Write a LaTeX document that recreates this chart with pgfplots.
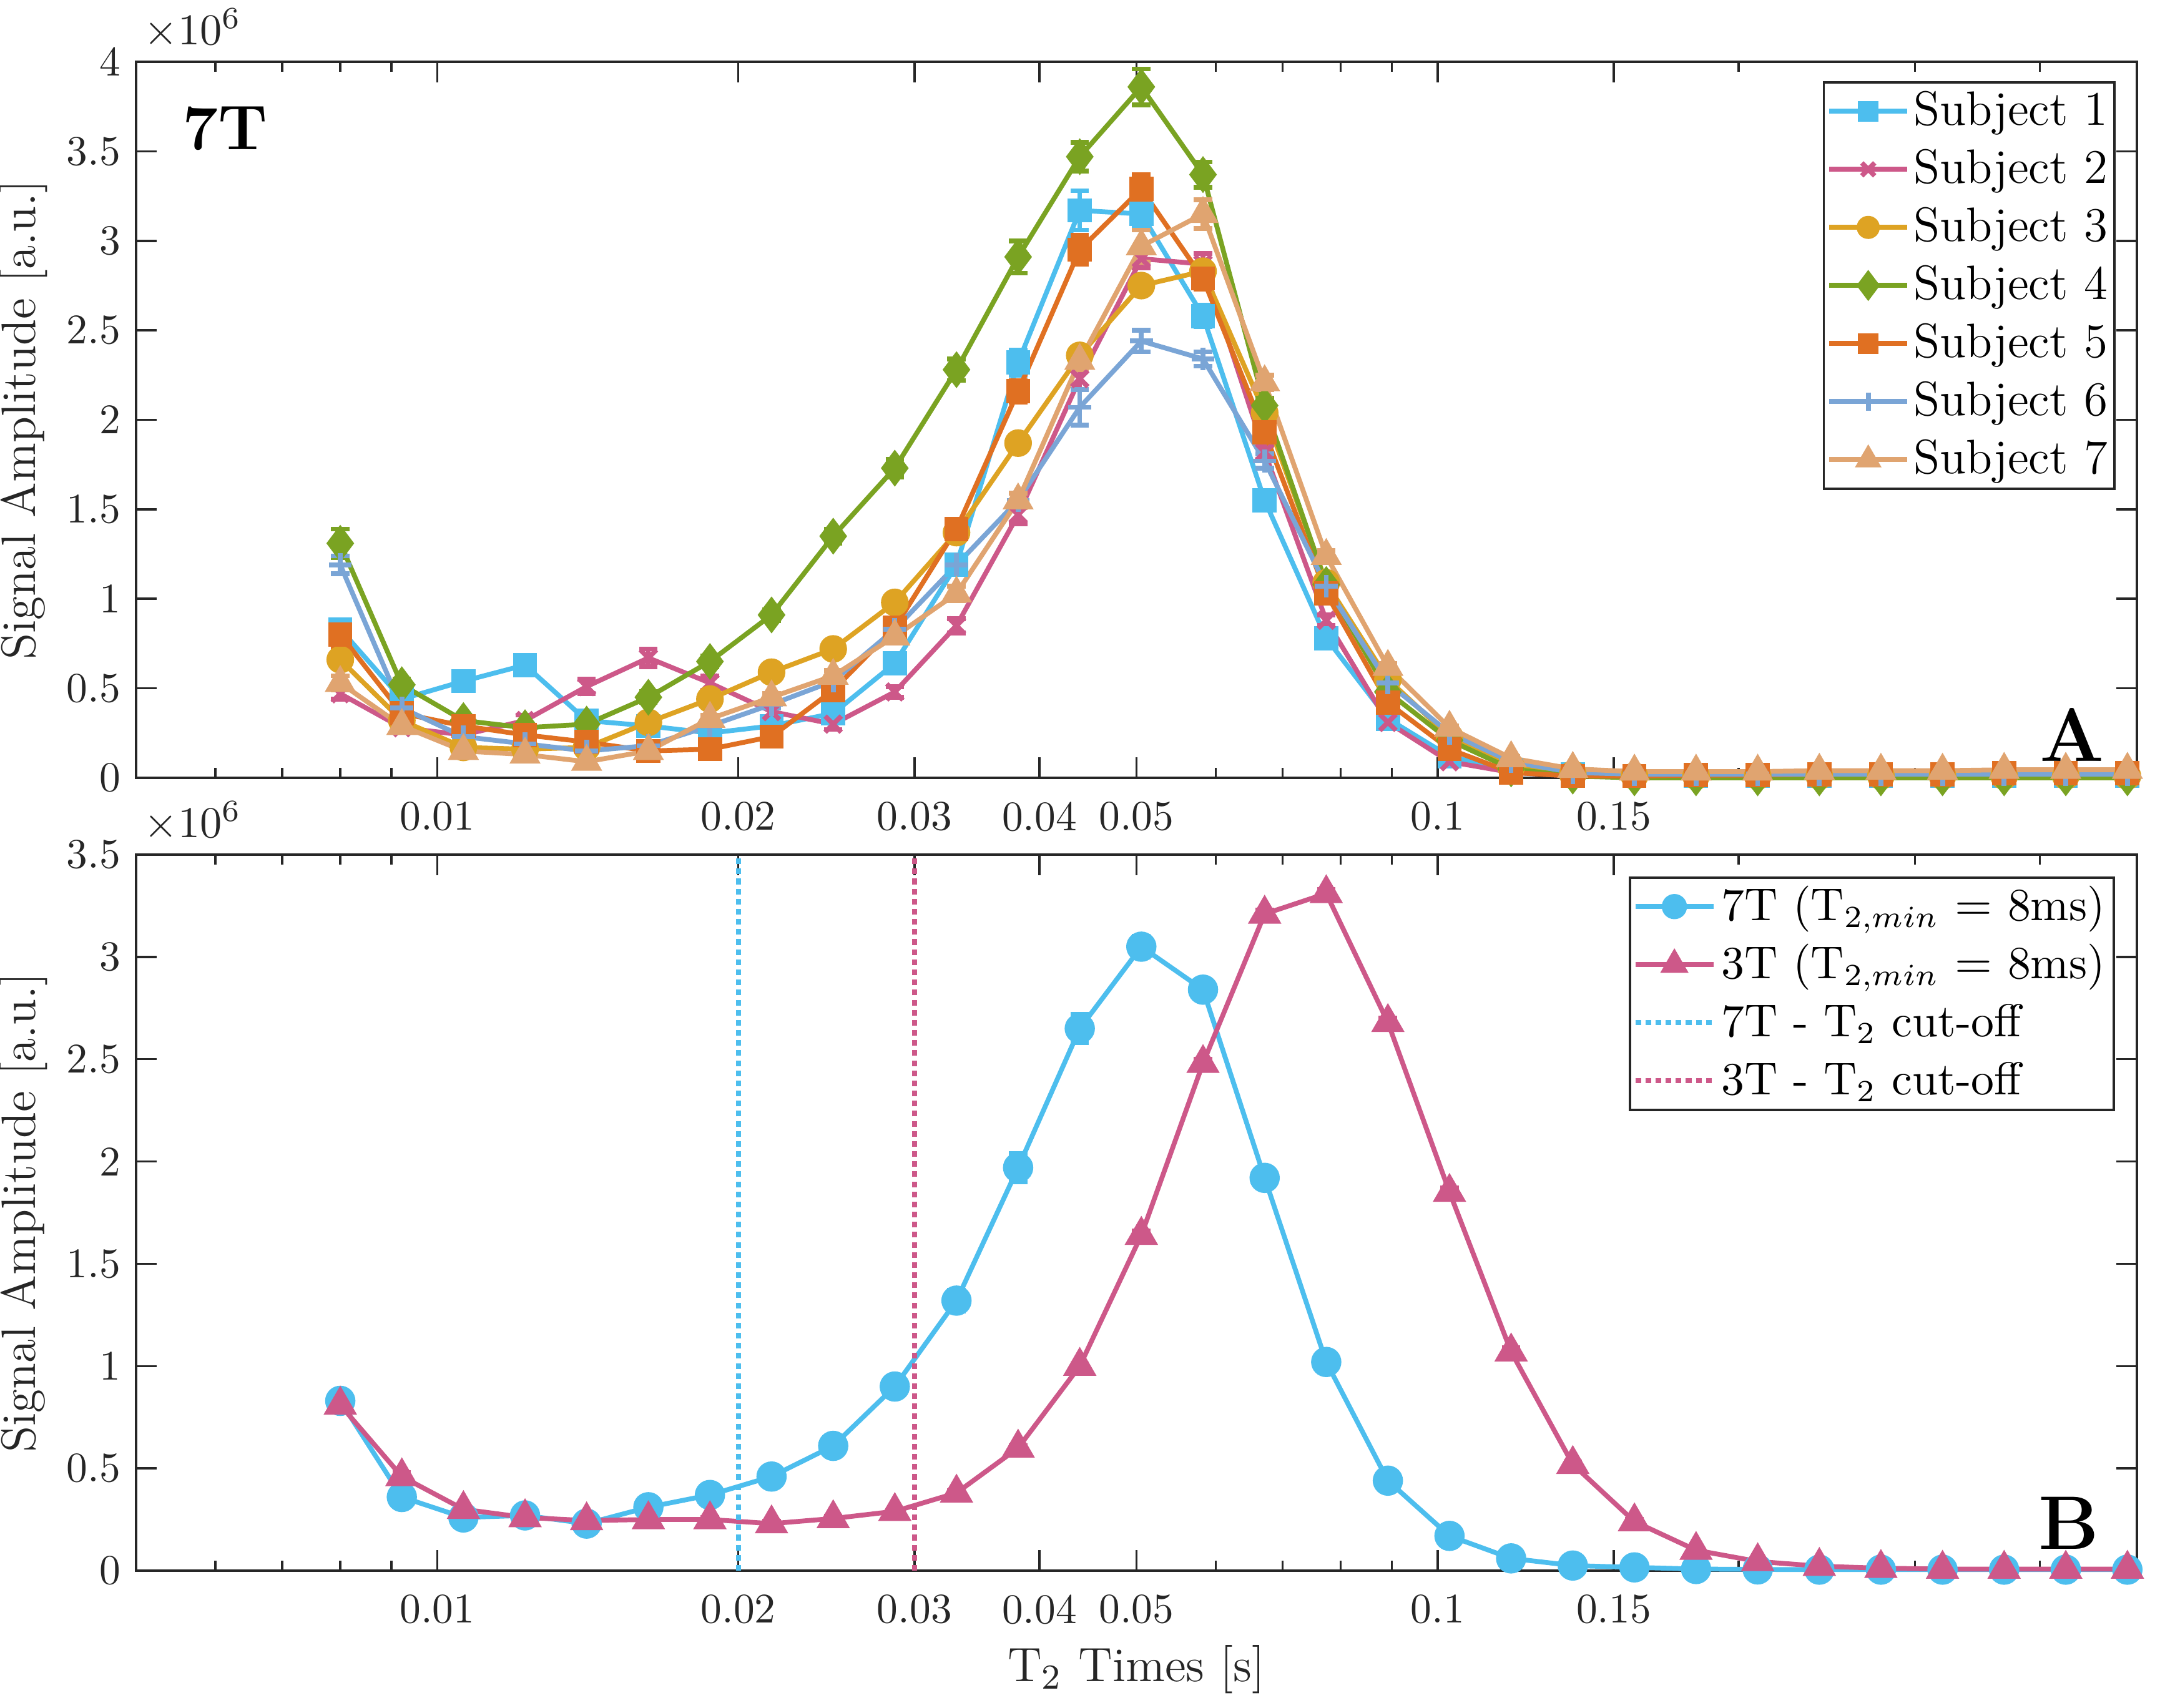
\documentclass[border=0pt]{standalone}
\usepackage{pgfplots}
\usepackage{pgfplotstable}
\pgfplotsset{compat=1.18}
\definecolor{c1}{RGB}{77,190,238}
\definecolor{c2}{RGB}{205,88,137}
\definecolor{c3}{RGB}{222,163,35}
\definecolor{c4}{RGB}{122,163,34}
\definecolor{c5}{RGB}{224,112,34}
\definecolor{c6}{RGB}{122,165,214}
\definecolor{c7}{RGB}{224,164,112}
\definecolor{axc}{RGB}{38,38,38}

\pgfplotstableread{
x        s1   e1    s2   e2    s3   e3    s4   e4    s5    e5    s6   e6    s7    e7
0.008000 0.83 0.04  0.47 0.03  0.66 0.03  1.31 0.08  0.80  0.07  1.19 0.05  0.53  0.04
0.009218 0.44 0.03  0.28 0.02  0.32 0.02  0.52 0.03  0.36  0.02  0.39 0.03  0.29  0.02
0.010622 0.54 0.03  0.24 0.02  0.17 0.02  0.32 0.02  0.29  0.02  0.23 0.02  0.15  0.02
0.012240 0.63 0.03  0.32 0.03  0.16 0.02  0.28 0.02  0.24  0.02  0.19 0.02  0.13  0.02
0.014104 0.32 0.02  0.51 0.04  0.17 0.02  0.30 0.02  0.20  0.02  0.15 0.02  0.09  0.02
0.016259 0.29 0.02  0.67 0.05  0.31 0.02  0.45 0.03  0.15  0.02  0.18 0.02  0.15  0.02
0.018734 0.25 0.02  0.53 0.04  0.44 0.02  0.65 0.03  0.16  0.02  0.29 0.02  0.33  0.02
0.021587 0.29 0.02  0.37 0.03  0.59 0.03  0.91 0.03  0.23  0.02  0.41 0.02  0.45  0.02
0.024878 0.36 0.02  0.30 0.03  0.72 0.03  1.35 0.04  0.49  0.03  0.54 0.03  0.57  0.03
0.028669 0.64 0.03  0.48 0.03  0.98 0.03  1.73 0.05  0.84  0.04  0.83 0.03  0.79  0.03
0.033044 1.19 0.05  0.85 0.04  1.37 0.04  2.28 0.06  1.39  0.04  1.19 0.04  1.03  0.04
0.038078 2.32 0.07  1.47 0.05  1.87 0.04  2.91 0.09  2.16  0.06  1.55 0.04  1.55  0.04
0.043882 3.17 0.11  2.23 0.06  2.36 0.04  3.47 0.08  2.95  0.08  2.07 0.10  2.33  0.05
0.050562 3.15 0.07  2.90 0.05  2.75 0.04  3.86 0.10  3.29  0.08  2.44 0.06  2.97  0.09
0.058275 2.58 0.06  2.87 0.06  2.83 0.04  3.37 0.07  2.79  0.06  2.34 0.04  3.15  0.08
0.067157 1.55 0.04  1.82 0.04  2.04 0.04  2.08 0.04  1.93  0.04  1.77 0.04  2.21  0.04
0.077390 0.78 0.03  0.88 0.03  1.09 0.03  1.08 0.03  1.03  0.03  1.07 0.03  1.24  0.03
0.089184 0.33 0.02  0.31 0.02  0.55 0.02  0.48 0.02  0.42  0.02  0.53 0.02  0.62  0.02
0.102770 0.12 0.01  0.09 0.01  0.23 0.01  0.21 0.01  0.16  0.01  0.25 0.01  0.28  0.01
0.118430 0.04 0.01  0.03 0.01  0.06 0.01  0.05 0.01  0.03  0.01  0.09 0.01  0.11  0.01
0.136490 0.02 0.01  0.01 0.01  0.02 0.01  0.01 0.01  0.01  0.01  0.03 0.01  0.05  0.01
0.157300 0.01 0.005 0.01 0.005 0.01 0.005 0.00 0.005 0.010 0.005 0.02 0.005 0.035 0.005
0.181270 0.01 0.005 0.01 0.005 0.01 0.005 0.00 0.005 0.015 0.005 0.02 0.005 0.035 0.005
0.208900 0.01 0.005 0.01 0.005 0.01 0.005 0.00 0.005 0.015 0.005 0.02 0.005 0.035 0.005
0.240740 0.01 0.005 0.01 0.005 0.01 0.005 0.00 0.005 0.020 0.005 0.02 0.005 0.040 0.005
0.277390 0.01 0.005 0.01 0.005 0.01 0.005 0.00 0.005 0.020 0.005 0.02 0.005 0.040 0.005
0.319660 0.01 0.005 0.01 0.005 0.01 0.005 0.00 0.005 0.020 0.005 0.02 0.005 0.040 0.005
0.368380 0.01 0.005 0.01 0.005 0.01 0.005 0.00 0.005 0.025 0.005 0.02 0.005 0.045 0.005
0.424500 0.01 0.005 0.01 0.005 0.01 0.005 0.00 0.005 0.025 0.005 0.02 0.005 0.045 0.005
0.489200 0.01 0.005 0.01 0.005 0.01 0.005 0.00 0.005 0.025 0.005 0.02 0.005 0.045 0.005
}\toptable

\pgfplotstableread{
x        a     ea    b     eb
0.008000 0.83  0.03  0.81  0.02
0.009218 0.36  0.02  0.46  0.02
0.010622 0.26  0.02  0.30  0.01
0.012240 0.27  0.02  0.26  0.01
0.014104 0.23  0.02  0.245 0.01
0.016259 0.31  0.02  0.25  0.01
0.018734 0.37  0.02  0.25  0.01
0.021587 0.46  0.02  0.23  0.01
0.024878 0.61  0.03  0.255 0.01
0.028669 0.90  0.04  0.29  0.01
0.033044 1.32  0.05  0.38  0.01
0.038078 1.97  0.07  0.60  0.01
0.043882 2.65  0.07  1.00  0.01
0.050562 3.05  0.05  1.64  0.02
0.058275 2.84  0.03  2.48  0.02
0.067157 1.92  0.02  3.21  0.02
0.077390 1.02  0.02  3.31  0.02
0.089184 0.44  0.01  2.68  0.02
0.102770 0.17  0.01  1.85  0.02
0.118430 0.06  0.01  1.07  0.02
0.136490 0.025 0.005 0.52  0.01
0.157300 0.016 0.005 0.24  0.01
0.181270 0.008 0.005 0.10  0.005
0.208900 0.006 0.005 0.045 0.005
0.240740 0.005 0.005 0.022 0.005
0.277390 0.005 0.005 0.012 0.005
0.319660 0.005 0.005 0.008 0.005
0.368380 0.005 0.005 0.008 0.005
0.424500 0.005 0.005 0.008 0.005
0.489200 0.005 0.005 0.008 0.005
}\bottable

\pgfplotsset{
  myeb/.style={error bars/y dir=both, error bars/y explicit,
    error bars/error bar style={line width=1.1pt, solid},
    error bars/error mark options={rotate=90, mark size=2.1pt, line width=1.1pt}},
  myln/.style={line width=1.1pt, solid, mark options={solid}},
}

\begin{document}
\begin{tikzpicture}
\useasboundingbox (-1.09cm,-1.095cm) rectangle (16.25cm,12.58cm);
% ---------------- top panel ----------------
\begin{axis}[xmode=log,
    width=16.025cm, height=5.735cm, scale only axis,
    at={(0,6.35cm)}, anchor=south west,
    xmin=0.005, xmax=0.5,
    xtick={0.01,0.02,0.03,0.04,0.05,0.1,0.15},
    xticklabels={0.01,0.02,0.03,0.04,0.05,0.1,0.15},
    minor xtick={0.006,0.007,0.008,0.009,0.06,0.07,0.08,0.09,0.2,0.3,0.4},
    ymin=0, ymax=4, ytick={0,0.5,1,1.5,2,2.5,3,3.5,4},
    yticklabels={0,0.5,1,1.5,2,2.5,3,3.5,4},
    major tick length=0.165cm, minor tick length=0.08cm,
    axis line style={axc, line width=0.6pt},
    tick style={axc, line width=0.5pt},
    tick label style={font=\fontsize{9.6}{11}\selectfont, text=axc},
    xticklabel style={yshift=-0.07cm},
    ylabel={Signal Amplitude [a.u.]},
    ylabel style={at={(axis description cs:-0.0565,0.5)}, anchor=center, font=\fontsize{11}{13}\selectfont, text=axc},
    clip=false,
    legend cell align=left,
    legend style={at={(1,1)}, anchor=north east, xshift=-0.17cm, yshift=-0.155cm,
      font=\fontsize{11}{13}\selectfont, draw=axc, line width=0.5pt, inner xsep=0.025cm, inner ysep=0pt,
      nodes={inner xsep=0.03cm, inner ysep=0.0325cm, text height=0.31cm, text depth=0.09cm}},
    legend image code/.code={\draw[mark repeat=2,mark phase=2,mark options={solid,scale=0.8}] plot coordinates {(0cm,0cm) (0.3125cm,0cm) (0.625cm,0cm)};},
  ]
\addplot[myln, c1, mark=square*, mark size=2.2pt, myeb] table[x=x, y=s1, y error=e1] {\toptable};
\addlegendentry{Subject 1}
\addplot[myln, c2, mark=x, mark size=2.6pt, myeb] table[x=x, y=s2, y error=e2] {\toptable};
\addlegendentry{Subject 2}
\addplot[myln, c3, mark=*, mark size=2.6pt, myeb] table[x=x, y=s3, y error=e3] {\toptable};
\addlegendentry{Subject 3}
\addplot[myln, c4, mark=diamond*, mark size=3.3pt, myeb] table[x=x, y=s4, y error=e4] {\toptable};
\addlegendentry{Subject 4}
\addplot[myln, c5, mark=square*, mark size=2.2pt, myeb] table[x=x, y=s5, y error=e5] {\toptable};
\addlegendentry{Subject 5}
\addplot[myln, c6, mark=+, mark size=2.6pt, myeb] table[x=x, y=s6, y error=e6] {\toptable};
\addlegendentry{Subject 6}
\addplot[myln, c7, mark=triangle*, mark size=3pt, myeb] table[x=x, y=s7, y error=e7] {\toptable};
\addlegendentry{Subject 7}
\node[anchor=base west, inner sep=0pt, xshift=0.055cm, yshift=0.14cm, font=\fontsize{9.6}{11}\selectfont, text=axc] at (rel axis cs:0,1) {$\times10^{6}$};
\node[anchor=base west, inner sep=0pt, xshift=0.365cm, yshift=-0.7cm, font=\fontsize{14.4}{17}\selectfont\bfseries] at (rel axis cs:0,1) {7T};
\node[anchor=base east, inner sep=0pt, xshift=-0.255cm, yshift=0.13cm, font=\fontsize{17.28}{20}\selectfont\bfseries] at (rel axis cs:1,0) {A};
\end{axis}
% ---------------- bottom panel ----------------
\begin{axis}[xmode=log,
    width=16.025cm, height=5.735cm, scale only axis,
    at={(0,0)}, anchor=south west,
    xmin=0.005, xmax=0.5,
    xtick={0.01,0.02,0.03,0.04,0.05,0.1,0.15},
    xticklabels={0.01,0.02,0.03,0.04,0.05,0.1,0.15},
    minor xtick={0.006,0.007,0.008,0.009,0.06,0.07,0.08,0.09,0.2,0.3,0.4},
    ymin=0, ymax=3.5, ytick={0,0.5,1,1.5,2,2.5,3,3.5},
    yticklabels={0,0.5,1,1.5,2,2.5,3,3.5},
    major tick length=0.165cm, minor tick length=0.08cm,
    axis line style={axc, line width=0.6pt},
    tick style={axc, line width=0.5pt},
    tick label style={font=\fontsize{9.6}{11}\selectfont, text=axc},
    xticklabel style={yshift=-0.07cm},
    ylabel={Signal Amplitude [a.u.]},
    ylabel style={at={(axis description cs:-0.0565,0.5)}, anchor=center, font=\fontsize{11}{13}\selectfont, text=axc},
    xlabel={T$_2$ Times [s]},
    xlabel style={at={(axis description cs:0.5,-0.0828)}, anchor=north, font=\fontsize{11}{13}\selectfont, text=axc},
    clip=false,
    legend cell align=left,
    legend style={at={(1,1)}, anchor=north east, xshift=-0.175cm, yshift=-0.175cm,
      font=\fontsize{10.5}{12.5}\selectfont, draw=axc, line width=0.5pt, inner xsep=0.025cm, inner ysep=0pt,
      nodes={inner xsep=0.045cm, inner ysep=0.0325cm, text height=0.31cm, text depth=0.09cm}},
    legend image code/.code={\draw[mark repeat=2,mark phase=2,mark options={solid,scale=0.8}] plot coordinates {(0cm,0cm) (0.3125cm,0cm) (0.625cm,0cm)};},
  ]
\addplot[myln, c1, mark=*, mark size=2.9pt, myeb] table[x=x, y=a, y error=ea] {\bottable};
\addlegendentry{7T (T$_{2,min}$ $=$ 8ms)}
\addplot[myln, c2, mark=triangle*, mark size=3.3pt, myeb] table[x=x, y=b, y error=eb] {\bottable};
\addlegendentry{3T (T$_{2,min}$ $=$ 8ms)}
\addplot[c1, line width=1.1pt, dash pattern=on 1.3pt off 1pt] coordinates {(0.02,0) (0.02,3.5)};
\addlegendentry{7T - T$_2$ cut-off}
\addplot[c2, line width=1.1pt, dash pattern=on 1.3pt off 1pt] coordinates {(0.03,0) (0.03,3.5)};
\addlegendentry{3T - T$_2$ cut-off}
\node[anchor=base west, inner sep=0pt, xshift=0.055cm, yshift=0.14cm, font=\fontsize{9.6}{11}\selectfont, text=axc] at (rel axis cs:0,1) {$\times10^{6}$};
\node[anchor=base east, inner sep=0pt, xshift=-0.295cm, yshift=0.175cm, font=\fontsize{17.28}{20}\selectfont\bfseries] at (rel axis cs:1,0) {B};
\end{axis}
\end{tikzpicture}
\end{document}
